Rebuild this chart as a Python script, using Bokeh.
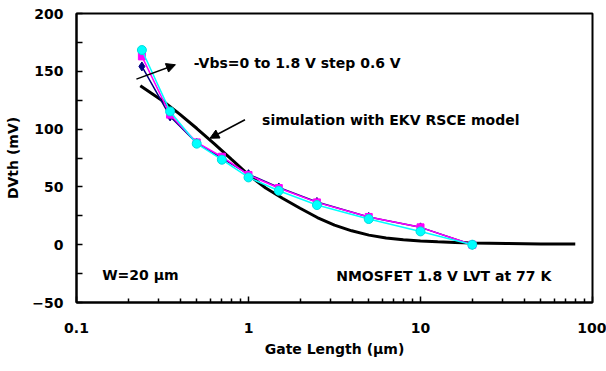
from bokeh.plotting import figure
from bokeh.models import (ColumnDataSource, Range1d, FixedTicker, Arrow, NormalHead,
                          Label, NumeralTickFormatter)
from bokeh.embed import file_html
from bokeh.resources import INLINE

# ---- data ----
gate_length = [0.24, 0.35, 0.5, 0.7, 1.0, 1.5, 2.5, 5, 10, 20]
dvth_vbs_0 = [154.2, 111.0, 88.0, 75.0, 61.0, 49.5, 37.0, 24.0, 15.0, 0.0]
dvth_vbs_06 = [162.9, 112.5, 88.5, 76.1, 60.3, 49.0, 36.6, 24.0, 15.0, 0.0]
dvth_vbs_18 = [168.4, 115.3, 87.4, 73.5, 58.2, 46.7, 34.3, 22.2, 11.5, 0.0]

sim_length = [0.235, 0.316, 0.398, 0.501, 0.631, 0.794, 1.0, 1.259, 1.585, 1.995,
              2.512, 3.162, 3.981, 5.012, 6.31, 7.943, 10.0, 12.59, 15.85, 19.95,
              31.6, 50.1, 79.4]
sim_dvth = [137.5, 124.5, 113.0, 100.5, 87.5, 74.0, 60.5, 49.0, 40.0, 31.5,
            23.5, 17.0, 12.0, 8.3, 5.8, 4.2, 3.2, 2.5, 2.0, 1.5,
            1.0, 0.7, 0.5]

x_major_ticks = [0.1, 1, 10, 100]
x_minor_ticks = [m * d for d in [0.1, 1, 10] for m in range(2, 10)]
y_major_ticks = [-50, 0, 50, 100, 150, 200]
y_minor_ticks = [-25, 25, 75, 125, 175]

FONT = "DejaVu Sans"

p = figure(width=606, height=371, x_axis_type="log",
           x_range=Range1d(0.1, 100), y_range=Range1d(-50, 200),
           output_backend="svg", toolbar_location=None)
p.min_border_left = 76
p.min_border_right = 14
p.min_border_top = 13
p.min_border_bottom = 69
p.background_fill_color = "white"
p.border_fill_color = "white"
p.outline_line_color = "black"
p.outline_line_width = 2
p.xgrid.visible = False
p.ygrid.visible = False

# simulation curve
p.line(sim_length, sim_dvth, line_color="black", line_width=3)

# measured series
src = ColumnDataSource(dict(x=gate_length, a=dvth_vbs_0, b=dvth_vbs_06, c=dvth_vbs_18))
p.line("x", "a", source=src, line_color="#000080", line_width=1.5)
p.scatter("x", "a", source=src, marker="diamond", size=9,
          fill_color="#000080", line_color="#000080")
p.line("x", "b", source=src, line_color="#FF00FF", line_width=1.5)
p.scatter("x", "b", source=src, marker="square", size=7,
          fill_color="#FF00FF", line_color="#FF00FF")
p.line("x", "c", source=src, line_color="#00FFFF", line_width=1.5)
p.scatter("x", "c", source=src, marker="circle", size=9,
          fill_color="#00FFFF", line_color="#00DDDD")

# axes
p.xaxis.ticker = FixedTicker(ticks=x_major_ticks, minor_ticks=x_minor_ticks)
p.xaxis.formatter = NumeralTickFormatter(format="0.[0]")
p.yaxis.ticker = FixedTicker(ticks=y_major_ticks, minor_ticks=y_minor_ticks)

for ax in (p.xaxis, p.yaxis):
    ax.axis_line_color = "black"
    ax.axis_line_width = 2
    ax.major_tick_line_color = "black"
    ax.minor_tick_line_color = "black"
    ax.major_tick_line_width = 1.5
    ax.minor_tick_line_width = 1.5
    ax.major_tick_out = 0
    ax.minor_tick_out = 0
    ax.major_label_text_font = FONT
    ax.major_label_text_font_style = "bold"
    ax.major_label_text_font_size = "14px"
    ax.major_label_text_color = "black"
    ax.axis_label_text_font = FONT
    ax.axis_label_text_font_style = "bold"
    ax.axis_label_text_font_size = "14px"
    ax.axis_label_text_color = "black"

p.xaxis.major_tick_in = 6
p.xaxis.minor_tick_in = 4
p.yaxis.major_tick_in = 6
p.yaxis.minor_tick_in = 6
p.xaxis.major_label_standoff = 20
p.yaxis.major_label_standoff = 13
p.xaxis.axis_label = "Gate Length (µm)"
p.yaxis.axis_label = "DVth (mV)"
p.xaxis.axis_label_standoff = 5
p.yaxis.axis_label_standoff = 8

# annotations
p.add_layout(Arrow(end=NormalHead(size=9, fill_color="black", line_color="black"),
                   x_start=0.223, y_start=143.2, x_end=0.376, y_end=155.7,
                   line_color="black", line_width=1.5))
p.add_layout(Arrow(end=NormalHead(size=9, fill_color="black", line_color="black"),
                   x_start=0.954, y_start=108.1, x_end=0.597, y_end=92.1,
                   line_color="black", line_width=1.5))

labels = [
    (0.481, 157.0, "-Vbs=0 to 1.8 V step 0.6 V"),
    (1.20, 107.9, "simulation with EKV RSCE model"),
    (0.141, -26.0, "W=20 µm"),
    (3.235, -27.0, "NMOSFET 1.8 V LVT at 77 K"),
]
for lx, ly, txt in labels:
    p.add_layout(Label(x=lx, y=ly, text=txt, text_font=FONT, text_font_style="bold",
                       text_font_size="14px", text_color="black",
                       text_baseline="alphabetic", text_align="left"))

open("out.html", "w").write(file_html(p, INLINE))
